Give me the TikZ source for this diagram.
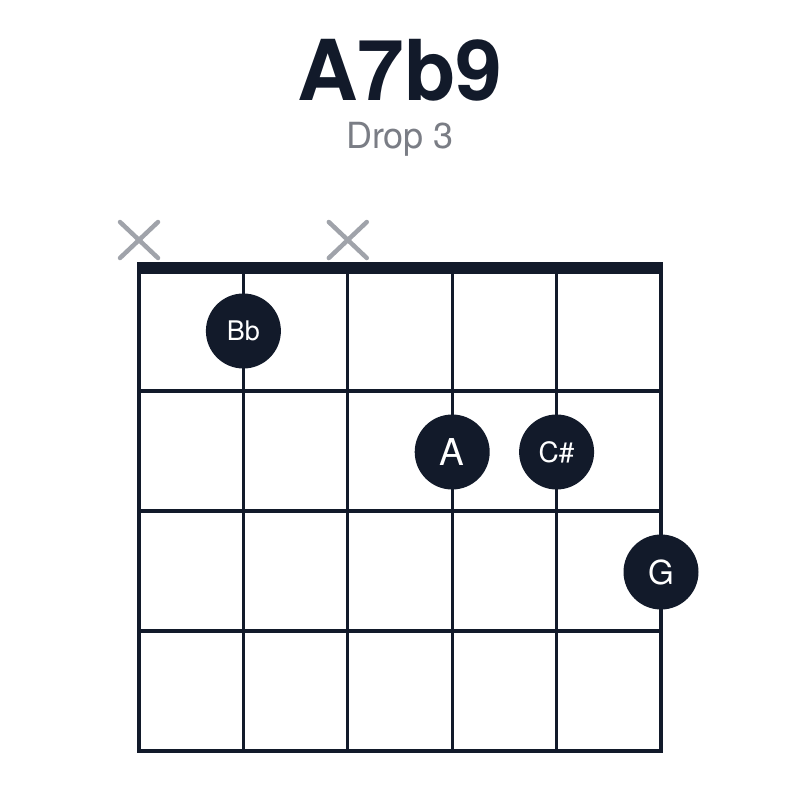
\documentclass[tikz,border=0pt]{standalone}
\usepackage{fontspec}
\setmainfont{TeX Gyre Heros}
\definecolor{ink}{HTML}{121A2A}
\definecolor{mute}{HTML}{A0A3AA}
\definecolor{subgray}{HTML}{7A7D85}
\tikzset{
  fingerdot/.style={circle,fill=ink,minimum size=75pt,inner sep=0pt,text=white,font=\fontsize{27}{27}\selectfont},
  mutemark/.style={draw=mute,line width=4.5pt,line cap=round}
}
\begin{document}
\begin{tikzpicture}[x=1pt,y=-1pt]
    \useasboundingbox (0,0) rectangle (800,800);
    \def\gridtop{271}
    \def\gridbot{751}

    % strings and frets
    \foreach \sx in {139,243.4,347.8,452.2,556.6,661}
        \draw[ink,line width=3.2pt] (\sx,\gridtop) -- (\sx,\gridbot);
    \foreach \fy in {391,511,631,751}
        \draw[ink,line width=3.2pt] (137.4,\fy) -- (662.6,\fy);
    \fill[ink] (137.4,262) rectangle (662.6,274);

    % muted strings
    \foreach \mx in {139,347.8}{
        \draw[mutemark] (\mx-19,222) -- (\mx+19,258);
        \draw[mutemark] (\mx-19,258) -- (\mx+19,222);
    }

    % title
    \node[text=ink,font=\fontsize{84}{84}\selectfont\bfseries,anchor=base] (title) at (400,100) {A7b9};
    \node[text=subgray,font=\fontsize{36}{36}\selectfont,anchor=base] (voicing) at (400,148) {Drop 3};

    % fingers
    \node[fingerdot] (bb) at (243.4,331) {Bb};
    \node[fingerdot,font=\fontsize{37}{37}\selectfont] (a) at (452.2,452) {A};
    \node[fingerdot,font=\fontsize{28}{28}\selectfont] (cs) at (556.6,452) {C\#};
    \node[fingerdot,font=\fontsize{33}{33}\selectfont] (g) at (661,572) {G};
\end{tikzpicture}
\end{document}
